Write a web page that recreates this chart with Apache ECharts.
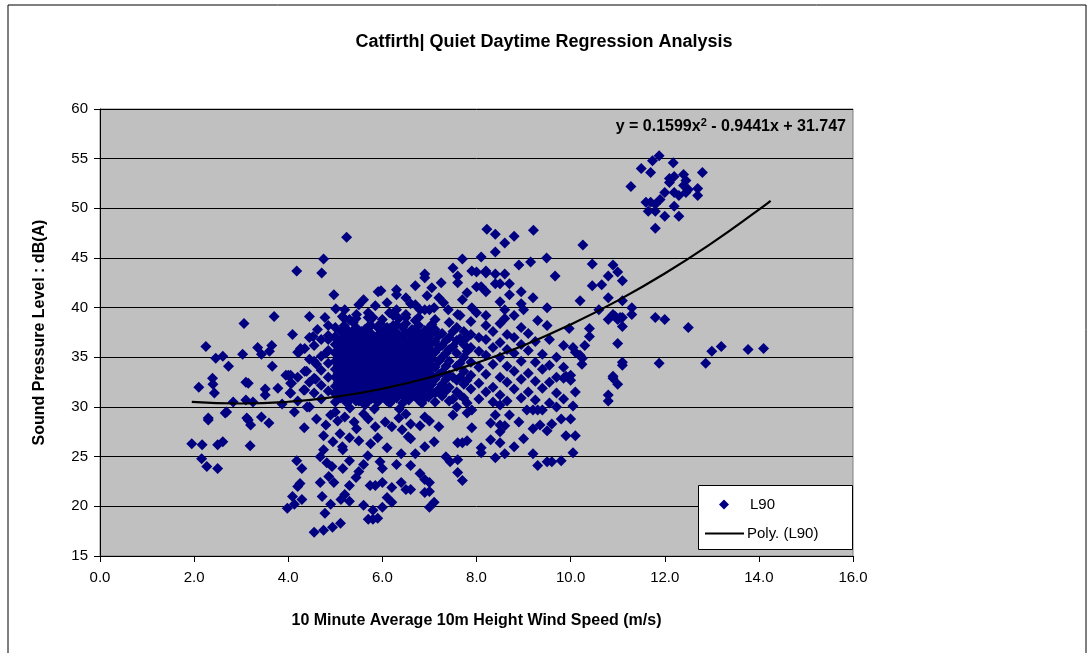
<!DOCTYPE html>
<html>
<head>
<meta charset="utf-8">
<script src="https://cdn.jsdelivr.net/npm/echarts@6/dist/echarts.min.js"></script>
<style>
  html, body { margin: 0; padding: 0; background: #fff; }
  #chart { width: 1088px; height: 653px; }
</style>
</head>
<body>
<div id="chart"></div>
<script>
// L90 points, grouped by region of the plot
const sparseLeft = [
  [1.95,26.3],[2.17,26.2],[2.1,32.0],[2.25,36.1],[2.16,24.8],[2.27,24.0],[2.5,23.8],[2.3,28.7],
  [2.39,32.9],[2.4,32.3],[2.43,31.4],[2.46,34.9],[2.5,26.2],[2.61,26.5],[2.61,35.1],[2.66,29.4],
  [2.73,34.1],[2.83,30.5],[3.03,35.3],[3.06,38.4],[3.1,32.5],[3.1,30.7],[3.12,28.9],[3.15,32.4],
  [3.15,28.7],[3.19,26.1],[3.2,28.2],[3.25,30.5],[3.35,36.0],[3.43,35.3],[3.43,29.0],[3.51,31.8],
  [3.51,31.2],[3.59,28.4],[3.6,35.6],[3.65,36.2],[3.66,34.1],[3.7,39.1],[3.78,31.9],[3.87,30.3],
  [3.95,33.2],[2.3,28.9],[2.69,29.5]
];

const lowScatter = [
  [3.98,19.8],[4.34,27.9],[4.18,24.6],[4.29,23.8],[4.25,22.3],[4.2,22.0],[4.09,21.0],[4.29,20.7],
  [4.13,20.2],[4.78,19.3],[4.55,17.4],[4.75,17.6],[4.94,17.9],[4.9,20.2],[4.72,21.0],[4.75,25.7],
  [4.68,25.0],[4.82,24.4],[4.93,24.0],[4.86,23.0],[4.97,22.4],[4.68,22.4],[4.75,27.1],[4.95,26.5],
  [4.6,28.8],[4.9,29.2],[5.1,27.3],[5.3,26.9],[5.5,26.6],[5.16,25.7],[5.3,24.6],[5.16,23.8],
  [5.44,22.9],[5.3,22.1],[5.69,25.1],[5.6,24.2],[5.74,22.1],[5.6,20.1],[5.7,18.7],[5.8,18.7],
  [5.8,19.6],[5.11,18.3],[5.12,20.7],[5.3,20.5],[5.9,18.8],[5.85,22.1],[5.9,26.9],[5.4,28.5],
  [5.6,29.3],[5.2,29.0],[5.85,28.0],[5.5,23.5],[5.2,21.2],[5.95,24.5],[5.05,28.6],
  [6.06,28.5],[6.35,28.9],[6.42,27.7],[6.1,25.9],[6.6,28.3],[6.8,28.1],[6.6,26.8],[6.4,25.3],
  [6.7,25.3],[6.3,24.2],[6.0,23.8],[6.6,24.1],[6.8,23.3],[6.9,22.7],[7.0,22.4],[6.4,22.4],
  [6.0,22.4],[6.2,21.9],[6.5,21.7],[6.6,21.7],[6.9,21.4],[7.0,21.5],[6.1,20.9],[6.2,20.4],
  [6.0,19.9],[7.1,20.4],[7.0,19.9],[6.5,29.3],[6.9,29.0],
  [7.44,24.5],[7.6,23.4],[7.7,22.6],[7.6,24.7],[7.7,26.4],[7.6,26.4],[7.8,26.6],[7.9,27.9],
  [7.5,29.2],[7.8,29.4],[7.9,29.7],[7.2,28.0],[7.1,26.5],[7.35,25.0],
  [8.1,25.9],[8.1,25.4],[8.4,24.9],[8.6,25.3],[8.3,26.7],[8.5,26.4],[8.3,28.4],[8.5,28.2],
  [8.5,27.5],[8.6,28.1],[8.4,29.2],[8.7,29.2],[8.9,28.5],[8.8,26.0],
  [9.07,29.7],[9.2,29.7],[9.3,29.7],[9.4,29.7],[9.2,25.3],[9.3,24.1],[9.5,24.5],[9.6,24.5],
  [9.2,27.8],[9.35,28.2],[9.5,27.6],[9.6,28.3],[9.8,28.8],[10.0,28.8],[9.9,27.1],[10.1,27.1],
  [10.05,25.4],[9.8,24.6],[9.0,26.8],
  [4.8,28.2],[5.0,29.5],[5.7,28.8],[6.2,28.0],[7.0,28.6],[5.45,27.8],[6.55,27.0],[6.9,26.0],
  [5.75,26.3],[5.15,26.0]
];

// solid core of the cloud: [wind speed, list of levels]
const coreColumns = [
  [4.05, [31.4, 32.4, 33.2]],
  [4.2, [30.6, 33.0, 35.5]],
  [4.35, [31.7, 33.6, 35.9]],
  [4.45, [30.0, 32.5, 34.8, 37.0]],
  [4.55, [31.4, 32.9, 34.6, 36.2]],
  [4.7, [30.8, 32.2, 33.7, 35.1, 36.8]],
  [4.85, [31.6, 33.0, 34.4, 35.7, 37.2]],
  [5.0, [30.5, 31.3, 32.1, 33.0, 33.8, 34.6, 35.4, 36.3, 37.1, 38.0]],
  [5.06, [31.7, 32.5, 33.4, 34.2, 35.0, 35.8, 36.7]],
  [5.12, [30.9, 31.7, 32.5, 33.4, 34.2, 35.0, 35.8, 36.7, 37.6]],
  [5.19, [30.8, 31.6, 32.4, 33.3, 34.1, 34.9, 35.7, 36.5, 37.4, 38.2, 38.9]],
  [5.25, [30.4, 31.2, 32.0, 32.9, 33.7, 34.5, 35.3, 36.1, 37.0, 37.8]],
  [5.31, [29.9, 30.8, 31.6, 32.4, 33.3, 34.1, 34.9, 35.7, 36.5, 37.4]],
  [5.38, [31.0, 31.8, 32.6, 33.4, 34.3, 35.1, 35.9, 36.8, 37.6, 38.5]],
  [5.44, [30.6, 31.4, 32.2, 33.0, 33.9, 34.7, 35.5, 36.3, 37.2, 38.0, 38.9]],
  [5.5, [30.6, 31.4, 32.2, 33.0, 33.9, 34.7, 35.5, 36.4, 37.2]],
  [5.56, [31.0, 31.8, 32.6, 33.4, 34.3, 35.1, 35.9, 36.8, 37.6]],
  [5.63, [30.2, 31.1, 31.9, 32.7, 33.6, 34.4, 35.2, 36.0, 36.9, 37.8]],
  [5.7, [30.6, 31.5, 32.3, 33.1, 34.0, 34.8, 35.6, 36.4, 37.3, 38.1, 39.0]],
  [5.76, [30.8, 31.6, 32.4, 33.2, 34.0, 34.9, 35.7, 36.5, 37.4, 38.2]],
  [5.83, [29.8, 31.2, 32.0, 32.8, 33.6, 34.5, 35.3, 36.1, 37.0]],
  [5.9, [30.5, 31.3, 32.1, 33.0, 33.8, 34.6, 35.4, 36.2, 37.1, 38.0]],
  [5.96, [30.9, 31.7, 32.5, 33.4, 34.2, 35.0, 35.8, 36.6, 37.5, 38.4]],
  [6.03, [31.0, 31.8, 32.6, 33.4, 34.2, 35.1, 35.9, 36.7, 37.6]],
  [6.1, [30.6, 31.4, 32.2, 33.0, 33.8, 34.7, 35.5, 36.3, 37.2, 38.0]],
  [6.16, [30.4, 31.2, 32.1, 32.9, 33.7, 34.5, 35.3, 36.2, 37.0, 37.9]],
  [6.23, [30.8, 31.6, 32.4, 33.2, 34.1, 34.9, 35.7, 36.5, 37.4, 38.2, 39.2]],
  [6.3, [30.9, 31.7, 32.5, 33.3, 34.1, 35.0, 35.8, 36.6, 37.5, 38.3]],
  [6.36, [29.8, 31.3, 32.1, 32.9, 33.7, 34.6, 35.4, 36.2, 37.0]],
  [6.43, [30.4, 31.3, 32.1, 32.9, 33.8, 34.6, 35.4, 36.2, 37.1, 38.0]],
  [6.5, [30.8, 31.7, 32.5, 33.3, 34.2, 35.0, 35.8, 36.6, 37.5, 38.4, 39.3]],
  [6.56, [30.7, 31.5, 32.3, 33.2, 34.0, 34.8, 35.7, 36.5, 37.4]],
  [6.63, [31.1, 31.9, 32.7, 33.6, 34.4, 35.2, 36.1, 36.9, 37.8]],
  [6.7, [31.1, 31.9, 32.8, 33.6, 34.4, 35.3, 36.1, 37.0, 37.8, 38.7]],
  [6.77, [30.7, 31.5, 32.4, 33.2, 34.0, 34.9, 35.7, 36.6, 37.4, 38.2, 39.0]],
  [6.84, [30.4, 31.4, 32.3, 33.1, 34.0, 34.8, 35.6, 36.5, 37.3]],
  [6.9, [30.9, 31.8, 32.7, 33.5, 34.4, 35.2, 36.0, 36.9, 37.7]],
  [6.98, [31.0, 31.9, 32.7, 33.6, 34.4, 35.2, 36.1, 37.0, 37.9]],
  [7.05, [31.4, 32.3, 33.2, 34.0, 34.8, 35.6, 36.5, 37.4, 38.3]],
  [7.12, [30.5, 31.4, 32.8, 34.0, 35.5, 36.6, 37.8, 38.8]],
  [7.2, [31.8, 33.3, 34.6, 36.0, 37.2]],
  [7.27, [31.1, 32.3, 33.5, 35.0, 36.2, 37.4]],
  [7.35, [31.6, 32.8, 34.1, 35.4, 36.7]],
  [7.42, [30.6, 32.0, 33.2, 34.6, 35.8, 37.0, 38.5]],
  [7.5, [30.8, 33.0, 36.1, 37.6]],
  [7.58, [30.0, 31.5, 32.7, 34.1, 35.4, 36.7, 38.0]],
  [7.65, [31.2, 33.0, 34.4, 36.9, 39.2]],
  [7.73, [30.9, 32.3, 33.6, 35.0, 36.3, 37.6]],
  [7.8, [30.4, 32.7, 35.6, 37.0]],
  [7.88, [31.8, 33.2, 34.5, 36.0, 37.3, 38.6]],
  [8.05, [30.8, 32.4, 34.0, 35.6, 37.0]],
  [8.2, [31.5, 33.3, 35.2, 36.8, 38.2]],
  [8.35, [30.5, 32.0, 34.3, 36.0, 37.6]],
  [8.5, [30.2, 31.2, 33.0, 35.0, 36.5, 38.4]],
  [8.65, [30.6, 32.5, 34.1, 35.8, 37.3]],
  [8.8, [31.8, 33.6, 35.4, 37.0, 39.2]],
  [8.95, [30.9, 32.8, 34.6, 36.3, 38.0]],
  [9.1, [31.5, 33.4, 35.7, 37.4]],
  [9.25, [30.7, 32.6, 34.5, 36.6]],
  [9.4, [31.9, 33.8, 35.3]],
  [9.55, [30.4, 32.5, 34.2, 36.8]],
  [9.7, [30.0, 31.4, 33.0, 35.0]],
  [9.85, [30.8, 34.0, 36.2]]
];

const upperScatter = [
  [4.18,43.7],[4.71,43.5],[4.75,44.9],[4.97,41.3],[4.45,39.1],[4.09,37.3],[4.53,37.1],[4.85,36.8],
  [4.26,35.9],[4.23,35.5],[4.8,35.4],[4.0,33.2],[4.07,32.4],[4.39,33.6],[4.6,34.3],[4.58,32.8],
  [4.04,31.4],[4.33,31.7],[4.13,29.5],[4.4,30.0],[4.85,38.2],[4.62,37.8],[4.78,39.0],
  [5.24,47.1],[5.01,39.9],[5.15,39.1],[5.91,41.6],[5.97,41.7],[5.5,40.3],[5.3,38.8],[5.7,39.5],
  [5.85,40.2],[5.2,39.8],[5.45,39.3],[5.6,40.8],[5.8,39.0],[6.0,38.8],[6.15,39.5],[6.5,39.0],
  [6.7,40.3],[6.95,41.2],[7.1,40.0],[7.05,42.0],[7.25,42.5],[6.35,38.9],
  [6.3,41.8],[6.3,41.3],[6.6,40.4],[6.3,39.8],[6.3,39.1],[6.8,39.8],[6.9,39.8],[7.0,39.8],
  [6.9,43.4],[6.9,43.0],[6.5,41.0],[6.7,42.2],[6.1,40.5],
  [7.5,44.0],[7.6,43.2],[7.6,42.5],[7.9,43.7],[7.7,44.9],[7.4,39.8],[7.6,39.3],[7.2,41.0],
  [7.8,41.5],[7.3,40.5],[7.7,40.8],[7.9,40.0],
  [8.22,47.9],[8.4,47.4],[8.8,47.2],[8.6,46.5],[8.4,45.6],[8.1,45.1],[8.9,44.3],[8.0,43.6],
  [8.2,43.7],[8.2,43.5],[8.4,43.4],[8.6,43.4],[8.4,42.4],[8.5,42.4],[8.7,42.4],[8.0,42.1],
  [8.1,42.1],[8.2,41.6],[8.7,41.3],[8.5,40.6],[8.0,39.5],[8.2,39.2],[8.6,39.8],[8.6,38.9],
  [9.21,47.8],[9.15,44.6],[9.49,45.0],[9.67,43.2],[8.95,41.6],[8.95,40.4],[9.0,39.8],[9.3,38.7],
  [9.5,38.2],[9.2,41.0],[9.5,40.0]
];

const rightSpread = [
  [10.26,46.3],[10.46,44.4],[10.9,44.3],[10.8,43.2],[11.0,43.6],[11.1,42.7],[10.46,42.2],[10.66,42.3],
  [10.2,40.7],[10.8,41.0],[11.1,40.7],[10.6,39.8],[10.9,39.3],[10.95,39.1],[11.05,39.0],[11.1,39.0],
  [11.3,40.0],[11.3,39.3],[10.8,38.8],[11.0,38.8],[11.1,38.1],[9.97,37.9],[10.4,37.9],[10.4,37.1],
  [10.3,36.2],[10.05,36.0],[10.1,35.5],[10.2,35.2],[10.25,34.9],[11.0,36.4],[11.1,34.5],[10.9,33.1],
  [10.0,33.2],[10.24,34.3],[11.1,34.2],[9.9,33.1],[10.0,32.7],[9.85,32.9],[10.9,32.9],[11.0,32.3],
  [10.8,31.2],[10.8,30.6],[10.05,30.1],[10.1,31.5]
];

const highCluster = [
  [11.88,55.3],[11.74,54.8],[12.18,54.6],[11.5,54.0],[11.7,53.6],[12.8,53.6],[12.4,53.4],[12.2,53.2],
  [12.1,53.0],[12.1,52.6],[11.28,52.2],[12.45,52.8],[12.4,52.3],[12.5,51.9],[12.45,51.6],[12.7,52.0],
  [12.7,51.3],[12.2,51.6],[12.3,51.3],[11.6,50.6],[11.7,50.6],[11.8,50.4],[12.2,50.2],[11.65,49.7],
  [11.8,49.7],[12.0,49.2],[12.3,49.2],[11.8,48.0],[11.9,50.9],[12.0,51.6]
];

const tailPoints = [
  [11.88,34.4],[11.8,39.0],[12.0,38.8],[12.5,38.0],[12.87,34.4],[13.0,35.6],[13.2,36.1],[13.77,35.8],[14.1,35.9]
];

// poly trendline as drawn (y = 0.1599x^2 - 0.9441x + 31.747)
const trendX = [1.95, 3, 4, 5, 6, 7, 8, 9, 10, 11, 12, 13, 14, 14.25];
const trendY = [30.51, 30.35, 30.53, 31.02, 31.84, 32.97, 34.43, 36.20, 38.30, 40.71, 43.44, 46.50, 49.87, 50.76];

const xTicks = [0, 2, 4, 6, 8, 10, 12, 14, 16];

const corePoints = coreColumns.flatMap(([x, ys]) => ys.map(y => [x, y]));
const l90 = [].concat(sparseLeft, lowScatter, corePoints, upperScatter, rightSpread, highCluster, tailPoints);
const trend = trendX.map((x, i) => [x, trendY[i]]);

const chart = echarts.init(document.getElementById('chart'));
const font = 'Liberation Sans, Arial, sans-serif';
const navy = '#000080';

chart.setOption({
  animation: false,
  backgroundColor: '#fff',
  title: {
    text: 'Catfirth| Quiet Daytime Regression Analysis',
    left: 'center',
    top: 28,
    textStyle: { fontFamily: font, fontSize: 18, fontWeight: 'bold', color: '#000' }
  },
  grid: {
    left: 100, right: 235, top: 109, bottom: 97,
    show: true, backgroundColor: '#c0c0c0', borderColor: '#808080', borderWidth: 1
  },
  // two legends inside one drawn box, so each icon keeps its own size
  legend: [
    {
      left: 714, top: 492,
      itemWidth: 10, itemHeight: 10,
      z: 20,
      textStyle: { fontFamily: font, fontSize: 15, color: '#000', padding: [0, 0, 0, 16] },
      data: [{ name: 'L90', icon: 'diamond', itemStyle: { color: navy } }]
    },
    {
      left: 700, top: 521,
      itemWidth: 39, itemHeight: 2,
      z: 20,
      textStyle: { fontFamily: font, fontSize: 15, color: '#000', padding: [0, 0, 0, -2] },
      data: [{ name: 'Poly. (L90)', icon: 'rect', itemStyle: { color: '#000' } }]
    }
  ],
  xAxis: {
    type: 'value',
    min: 0, max: 16, interval: 2,
    name: '10 Minute Average 10m Height Wind Speed (m/s)',
    nameLocation: 'middle',
    nameGap: 57,
    nameTextStyle: { fontFamily: font, fontSize: 16, fontWeight: 'bold', color: '#000' },
    axisLine: { lineStyle: { color: '#000', width: 1 } },
    axisTick: { show: true, length: 6, lineStyle: { color: '#000' } },
    axisLabel: {
      fontFamily: font, fontSize: 15, color: '#000', margin: 14,
      formatter: v => xTicks.includes(v) ? v.toFixed(1) : ''
    },
    splitLine: { show: false }
  },
  yAxis: {
    type: 'value',
    min: 15, max: 60, interval: 5,
    name: 'Sound Pressure Level : dB(A)',
    nameLocation: 'middle',
    nameGap: 52,
    nameTextStyle: { fontFamily: font, fontSize: 16, fontWeight: 'bold', color: '#000' },
    axisLine: { show: true, lineStyle: { color: '#000', width: 1 } },
    axisTick: { show: true, length: 6, lineStyle: { color: '#000' } },
    axisLabel: { fontFamily: font, fontSize: 15, color: '#000', margin: 12 },
    splitLine: { show: true, lineStyle: { color: '#000', width: 1 } }
  },
  graphic: [
    {
      type: 'rect',
      shape: { x: 8, y: 5, width: 1078, height: 700 },
      style: { fill: 'none', stroke: '#000', lineWidth: 1 },
      silent: true
    },
    {
      type: 'rect',
      shape: { x: 698.5, y: 485.5, width: 154, height: 64 },
      style: { fill: '#fff', stroke: '#000', lineWidth: 1 },
      silent: true,
      z: 10
    },
    {
      type: 'text',
      right: 242,
      top: 117,
      style: {
        text: '{a|y = 0.1599x}{s|2}{a| - 0.9441x + 31.747}',
        rich: {
          a: { fontFamily: font, fontSize: 16, fontWeight: 'bold', fill: '#000' },
          s: { fontFamily: font, fontSize: 11, fontWeight: 'bold', fill: '#000', verticalAlign: 'top', padding: [0, 0, 8, 0] }
        }
      },
      z: 10
    }
  ],
  series: [
    {
      name: 'L90',
      type: 'scatter',
      symbol: 'diamond',
      symbolSize: 11,
      itemStyle: { color: navy, opacity: 1 },
      data: l90
    },
    {
      name: 'Poly. (L90)',
      type: 'line',
      smooth: true,
      symbol: 'none',
      lineStyle: { color: '#000', width: 2.2 },
      itemStyle: { color: '#000' },
      data: trend,
      z: 5
    }
  ]
});
window.addEventListener('resize', () => chart.resize());
</script>
</body>
</html>
